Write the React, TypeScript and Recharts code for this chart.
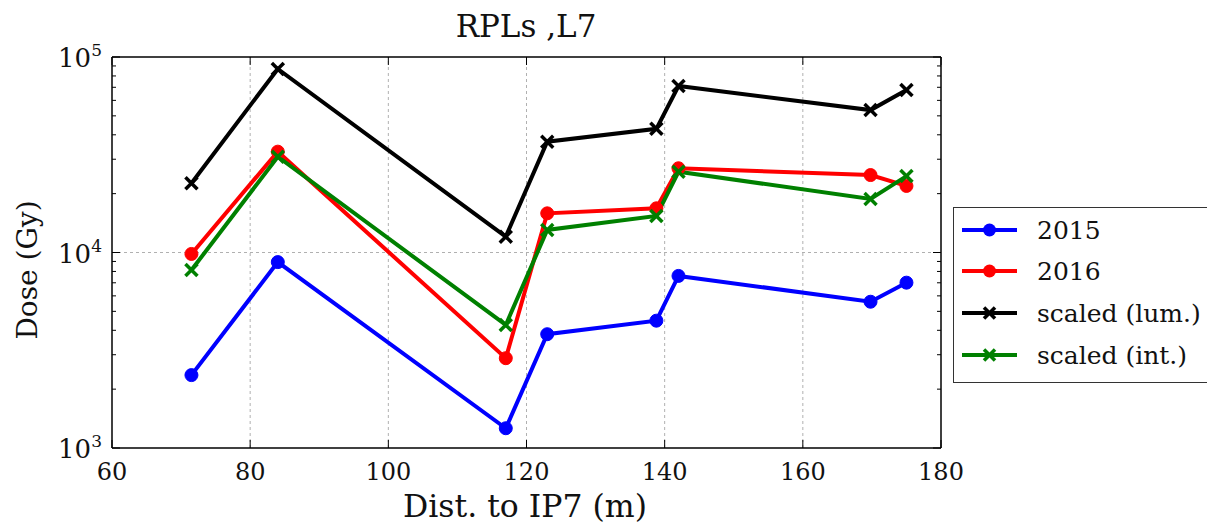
import { LineChart, Line, XAxis, YAxis, ReferenceLine } from "recharts";

const dist = [71.5, 84, 117, 123, 138.8, 142, 169.8, 175];
const dose2015 = [2360, 8930, 1262, 3820, 4480, 7590, 5600, 7010];
const dose2016 = [9830, 32800, 2880, 15860, 16830, 26970, 24900, 21900];
const scaledLum = [22600, 86900, 12050, 36900, 42900, 71100, 53500, 67800];
const scaledInt = [8130, 30900, 4260, 13040, 15380, 25870, 18790, 24600];

const xTicks = [60, 80, 100, 120, 140, 160, 180];
const yMajor = [1000, 10000, 100000];
const yMinor = [
  2000, 3000, 4000, 5000, 6000, 7000, 8000, 9000,
  20000, 30000, 40000, 50000, 60000, 70000, 80000, 90000,
];

const series = [
  { key: "d2015", name: "2015", color: "#0000ff", marker: "o" },
  { key: "d2016", name: "2016", color: "#ff0000", marker: "o" },
  { key: "lum", name: "scaled (lum.)", color: "#000000", marker: "x" },
  { key: "int", name: "scaled (int.)", color: "#008000", marker: "x" },
];

const data = dist.map((d, i) => ({
  x: d,
  d2015: dose2015[i],
  d2016: dose2016[i],
  lum: scaledLum[i],
  int: scaledInt[i],
}));

const FONT = "'DejaVu Serif', serif";

function CircleDot(color: string) {
  return (props: any) => {
    const { cx, cy } = props;
    if (cx == null || cy == null) return <g />;
    return <circle cx={cx} cy={cy} r={6.5} fill={color} stroke={color} />;
  };
}

function CrossDot(color: string) {
  return (props: any) => {
    const { cx, cy } = props;
    if (cx == null || cy == null) return <g />;
    const s = 6;
    return (
      <g stroke={color} strokeWidth={3.5}>
        <line x1={cx - s} y1={cy - s} x2={cx + s} y2={cy + s} />
        <line x1={cx - s} y1={cy + s} x2={cx + s} y2={cy - s} />
      </g>
    );
  };
}

const BottomTick = (props: any) => {
  const { x, y, payload } = props;
  return (
    <g>
      <line x1={x} y1={y} x2={x} y2={y - 8} stroke="#000" strokeWidth={1} />
      <text x={x} y={y + 32} textAnchor="middle" fontFamily={FONT} fontSize={24} fill="#111">
        {payload.value}
      </text>
    </g>
  );
};

const TopTick = (props: any) => {
  const { x, y } = props;
  return <line x1={x} y1={y} x2={x} y2={y + 8} stroke="#000" strokeWidth={1} />;
};

const LeftTick = (props: any) => {
  const { x, y, payload } = props;
  const major = yMajor.includes(payload.value);
  const exp = Math.round(Math.log10(payload.value));
  return (
    <g>
      <line x1={x} y1={y} x2={x + (major ? 8 : 4)} y2={y} stroke="#000" strokeWidth={1} />
      {major && (
        <text x={x - 10} y={y + 10} textAnchor="end" fontFamily={FONT} fontSize={26} fill="#111">
          10
          <tspan dy={-11} fontSize={17}>{exp}</tspan>
        </text>
      )}
    </g>
  );
};

const RightTick = (props: any) => {
  const { x, y, payload } = props;
  const major = yMajor.includes(payload.value);
  return <line x1={x} y1={y} x2={x - (major ? 8 : 4)} y2={y} stroke="#000" strokeWidth={1} />;
};

function LegendBox() {
  return (
    <div
      style={{
        position: "absolute",
        left: 953,
        top: 207,
        width: 300,
        height: 176,
        border: "1.5px solid #333",
        background: "#fff",
        boxSizing: "border-box",
      }}
    >
      {series.map((s, i) => (
        <div
          key={s.key}
          style={{ position: "absolute", left: 0, top: [6, 47, 89, 131][i], height: 32, display: "flex", alignItems: "center" }}
        >
          <svg width={80} height={32} style={{ display: "block" }}>
            <line x1={8} y1={16} x2={63} y2={16} stroke={s.color} strokeWidth={4} />
            {s.marker === "o" ? (
              <circle cx={35.5} cy={16} r={6.5} fill={s.color} />
            ) : (
              <g stroke={s.color} strokeWidth={3.5}>
                <line x1={30} y1={10.5} x2={41} y2={21.5} />
                <line x1={30} y1={21.5} x2={41} y2={10.5} />
              </g>
            )}
          </svg>
          <span style={{ fontFamily: FONT, fontSize: 25, color: "#111", whiteSpace: "nowrap", marginLeft: 3 }}>
            {s.name}
          </span>
        </div>
      ))}
    </div>
  );
}

export default function App() {
  return (
    <div style={{ position: "absolute", left: 0, top: 0, width: 1207, height: 524, background: "#fff", overflow: "hidden" }}>
      <LineChart width={1207} height={524} data={data} margin={{ top: 47, right: 256, bottom: 46, left: 0 }}>
        <XAxis
          xAxisId="b"
          dataKey="x"
          type="number"
          domain={[60, 180]}
          ticks={xTicks}
          allowDataOverflow
          height={30}
          tickSize={0}
          tickMargin={0}
          axisLine={{ stroke: "#000", strokeWidth: 1.5 }}
          tick={BottomTick}
        />
        <XAxis
          xAxisId="t"
          orientation="top"
          dataKey="x"
          type="number"
          domain={[60, 180]}
          ticks={xTicks}
          allowDataOverflow
          height={10}
          tickSize={0}
          tickMargin={0}
          axisLine={{ stroke: "#000", strokeWidth: 1.5 }}
          tick={TopTick}
        />
        <YAxis
          yAxisId="l"
          scale="log"
          type="number"
          domain={[1000, 100000]}
          ticks={[...yMajor, ...yMinor]}
          allowDataOverflow
          width={112}
          tickSize={0}
          tickMargin={0}
          interval={0}
          axisLine={{ stroke: "#000", strokeWidth: 1.5 }}
          tick={LeftTick}
        />
        <YAxis
          yAxisId="r"
          orientation="right"
          scale="log"
          type="number"
          domain={[1000, 100000]}
          ticks={[...yMajor, ...yMinor]}
          allowDataOverflow
          width={10}
          tickSize={0}
          tickMargin={0}
          interval={0}
          axisLine={{ stroke: "#000", strokeWidth: 1.5 }}
          tick={RightTick}
        />
        {xTicks.slice(1, -1).map((t) => (
          <ReferenceLine key={"gx" + t} xAxisId="b" yAxisId="l" x={t} stroke="#b0b0b0" strokeDasharray="3 3" strokeWidth={1} />
        ))}
        <ReferenceLine xAxisId="b" yAxisId="l" y={10000} stroke="#b0b0b0" strokeDasharray="3 3" strokeWidth={1} />
        {series.map((s) => (
          <Line
            key={s.key}
            xAxisId="b"
            yAxisId="l"
            type="linear"
            dataKey={s.key}
            name={s.name}
            stroke={s.color}
            strokeWidth={4}
            dot={s.marker === "o" ? CircleDot(s.color) : CrossDot(s.color)}
            activeDot={false}
            isAnimationActive={false}
          />
        ))}
      </LineChart>
      <svg width={1207} height={524} style={{ position: "absolute", left: 0, top: 0, pointerEvents: "none" }}>
        <text x={526} y={37} textAnchor="middle" fontFamily={FONT} fontSize={31} fill="#111">
          RPLs ,L7
        </text>
        <text x={525} y={517} textAnchor="middle" fontFamily={FONT} fontSize={31.5} fill="#111">
          Dist. to IP7 (m)
        </text>
        <text
          x={0}
          y={0}
          transform="translate(37 270) rotate(-90)"
          textAnchor="middle"
          fontFamily={FONT}
          fontSize={28}
          fill="#111"
        >
          Dose (Gy)
        </text>
      </svg>
      <LegendBox />
    </div>
  );
}
